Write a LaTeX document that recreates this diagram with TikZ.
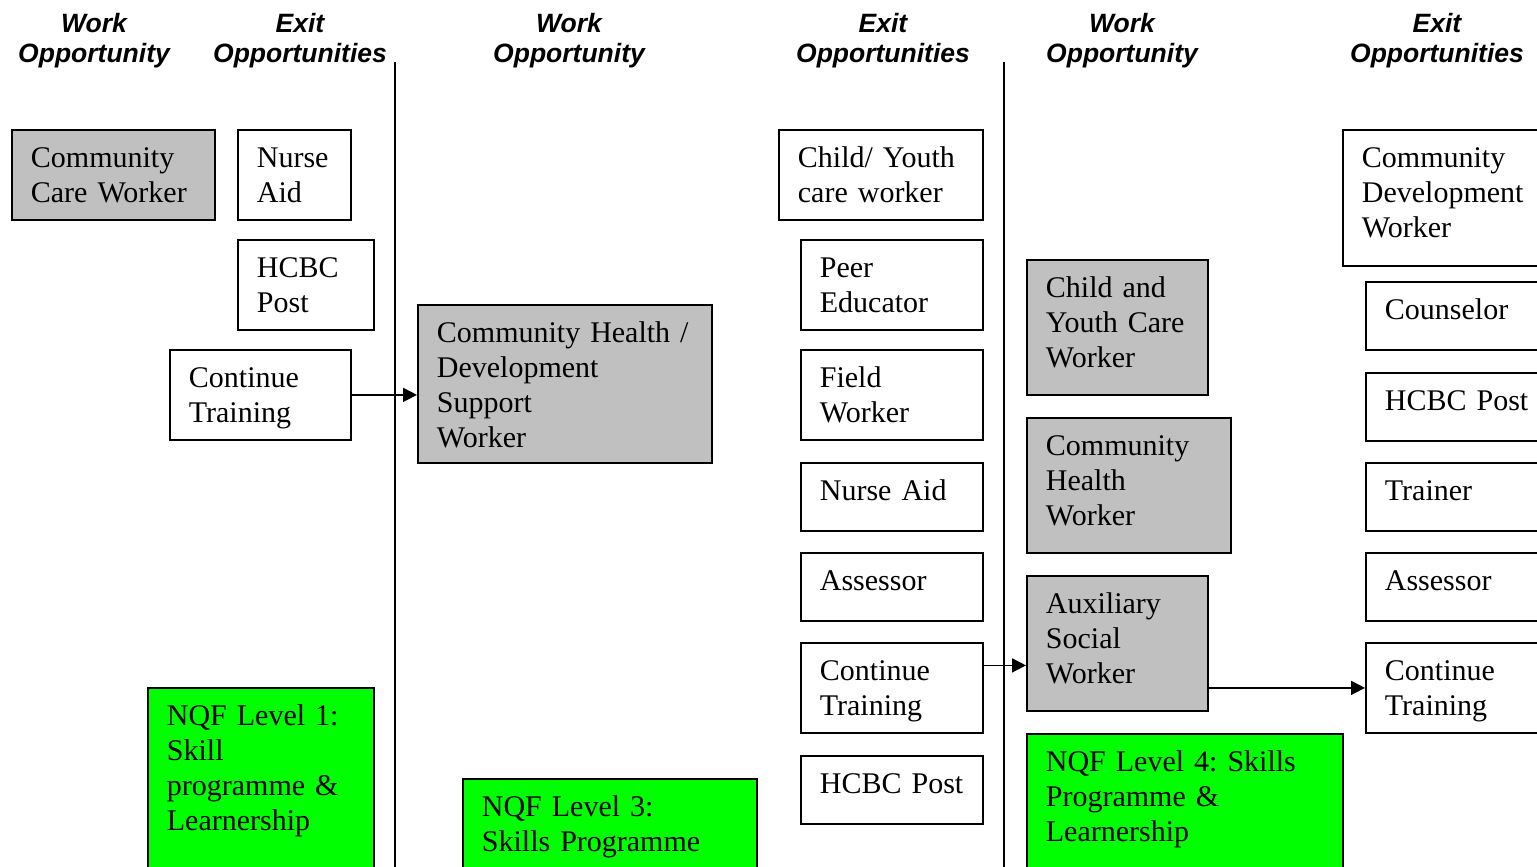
\documentclass[tikz,border=0pt]{standalone}
\usepackage{fontspec}
\setmainfont{Liberation Serif}
\newfontfamily\headfont{Liberation Sans}
\usetikzlibrary{arrows.meta,calc}
\definecolor{boxgray}{HTML}{C0C0C0}
\definecolor{boxgreen}{HTML}{00FF00}
\hyphenpenalty=10000
\exhyphenpenalty=10000
\frenchspacing
\tikzset{
  cell/.style={draw=black, line width=1.8pt, anchor=north west, align=left,
    inner xsep=19pt, inner ysep=0pt, text height=38pt,
    font=\fontsize{30}{35}\selectfont},
  work/.style={cell, fill=boxgray},
  level/.style={cell, fill=boxgreen},
  head/.style={align=center, anchor=base, inner sep=0pt,
    font=\headfont\bfseries\itshape\fontsize{26.5}{30}\selectfont},
  divider/.style={line width=1.8pt},
  flow/.style={line width=1.8pt, -{Triangle[length=14pt,width=14pt]}}
}
\begin{document}
\begin{tikzpicture}[x=1pt,y=-1pt]
\useasboundingbox (0,0) rectangle (1537,867);
\clip (0,0) rectangle (1537,867);

% column headings (anchored at the baseline of the second line)
\node[head] (h1) at (94,63)   {Work\\Opportunity};
\node[head] (h2) at (300,63)  {Exit\\Opportunities};
\node[head] (h3) at (569,63)  {Work\\Opportunity};
\node[head] (h4) at (883,63)  {Exit\\Opportunities};
\node[head] (h5) at (1122,63) {Work\\Opportunity};
\node[head] (h6) at (1437,63) {Exit\\Opportunities};

% dividers between levels
\coordinate (d1t) at (395,62);  \coordinate (d1b) at (395,880);
\coordinate (d2t) at (1004,62); \coordinate (d2b) at (1004,880);
\draw[divider] (d1t) -- (d1b);
\draw[divider] (d2t) -- (d2b);

% level 1
\node[work, text width=165pt, text depth=52pt] (ccw) at (11,129) {Community\\Care Worker};
\node[cell, text width=75pt,  text depth=52pt] (na1) at (237,129) {Nurse\\Aid};
\node[cell, text width=98pt,  text depth=52pt] (hc1) at (237,239) {HCBC\\Post};
\node[cell, text width=143pt, text depth=52pt] (ct1) at (169,349) {Continue\\Training};
\node[level, text width=188pt, text depth=182pt] (nq1) at (147,687) {NQF Level 1:\\Skill\\programme \&\\Learnership};

% level 3
\node[work, text width=256pt, text depth=120pt] (chs) at (417,304) {Community Health /\\Development\\Support\\Worker};
\node[level, text width=256pt, text depth=92pt] (nq3) at (462,778) {NQF Level 3:\\Skills Programme};

\node[cell, text width=166pt, text depth=52pt] (cyw) at (778,129) {Child/ Youth\\care worker};
\node[cell, text width=144pt, text depth=52pt] (pe)  at (800,239) {Peer\\Educator};
\node[cell, text width=144pt, text depth=52pt] (fw)  at (800,349) {Field\\Worker};
\node[cell, text width=144pt, text depth=30pt] (na2) at (800,462) {Nurse Aid};
\node[cell, text width=144pt, text depth=30pt] (as2) at (800,552) {Assessor};
\node[cell, text width=144pt, text depth=52pt] (ct2) at (800,642) {Continue\\Training};
\node[cell, text width=144pt, text depth=30pt] (hc2) at (800,755) {HCBC Post};

% level 4
\node[work, text width=143pt, text depth=97pt] (cyc) at (1026,259) {Child and\\Youth Care\\Worker};
\node[work, text width=166pt, text depth=97pt] (chw) at (1026,417) {Community\\Health\\Worker};
\node[work, text width=143pt, text depth=97pt] (asw) at (1026,575) {Auxiliary\\Social\\Worker};
\node[level, text width=278pt, text depth=150pt] (nq4) at (1026,733) {NQF Level 4: Skills\\Programme \&\\Learnership};

\node[cell, text width=182pt, text depth=98pt] (cdw) at (1342,129) {Community\\Development\\Worker};
\node[cell, text width=162pt, text depth=30pt] (cou) at (1365,281) {Counselor};
\node[cell, text width=162pt, text depth=30pt] (hc3) at (1365,372) {HCBC Post};
\node[cell, text width=162pt, text depth=30pt] (tr)  at (1365,462) {Trainer};
\node[cell, text width=162pt, text depth=30pt] (as3) at (1365,552) {Assessor};
\node[cell, text width=162pt, text depth=52pt] (ct3) at (1365,642) {Continue\\Training};

% progression arrows
\draw[flow] (ct1.east) -- (ct1.east -| chs.west);
\coordinate (a2) at ($(ct2.north east)!0.255!(ct2.south east)$);
\draw[flow] (a2) -- (a2 -| asw.west);
\draw[flow] (asw.east |- ct3.west) -- (ct3.west);
\end{tikzpicture}
\end{document}
